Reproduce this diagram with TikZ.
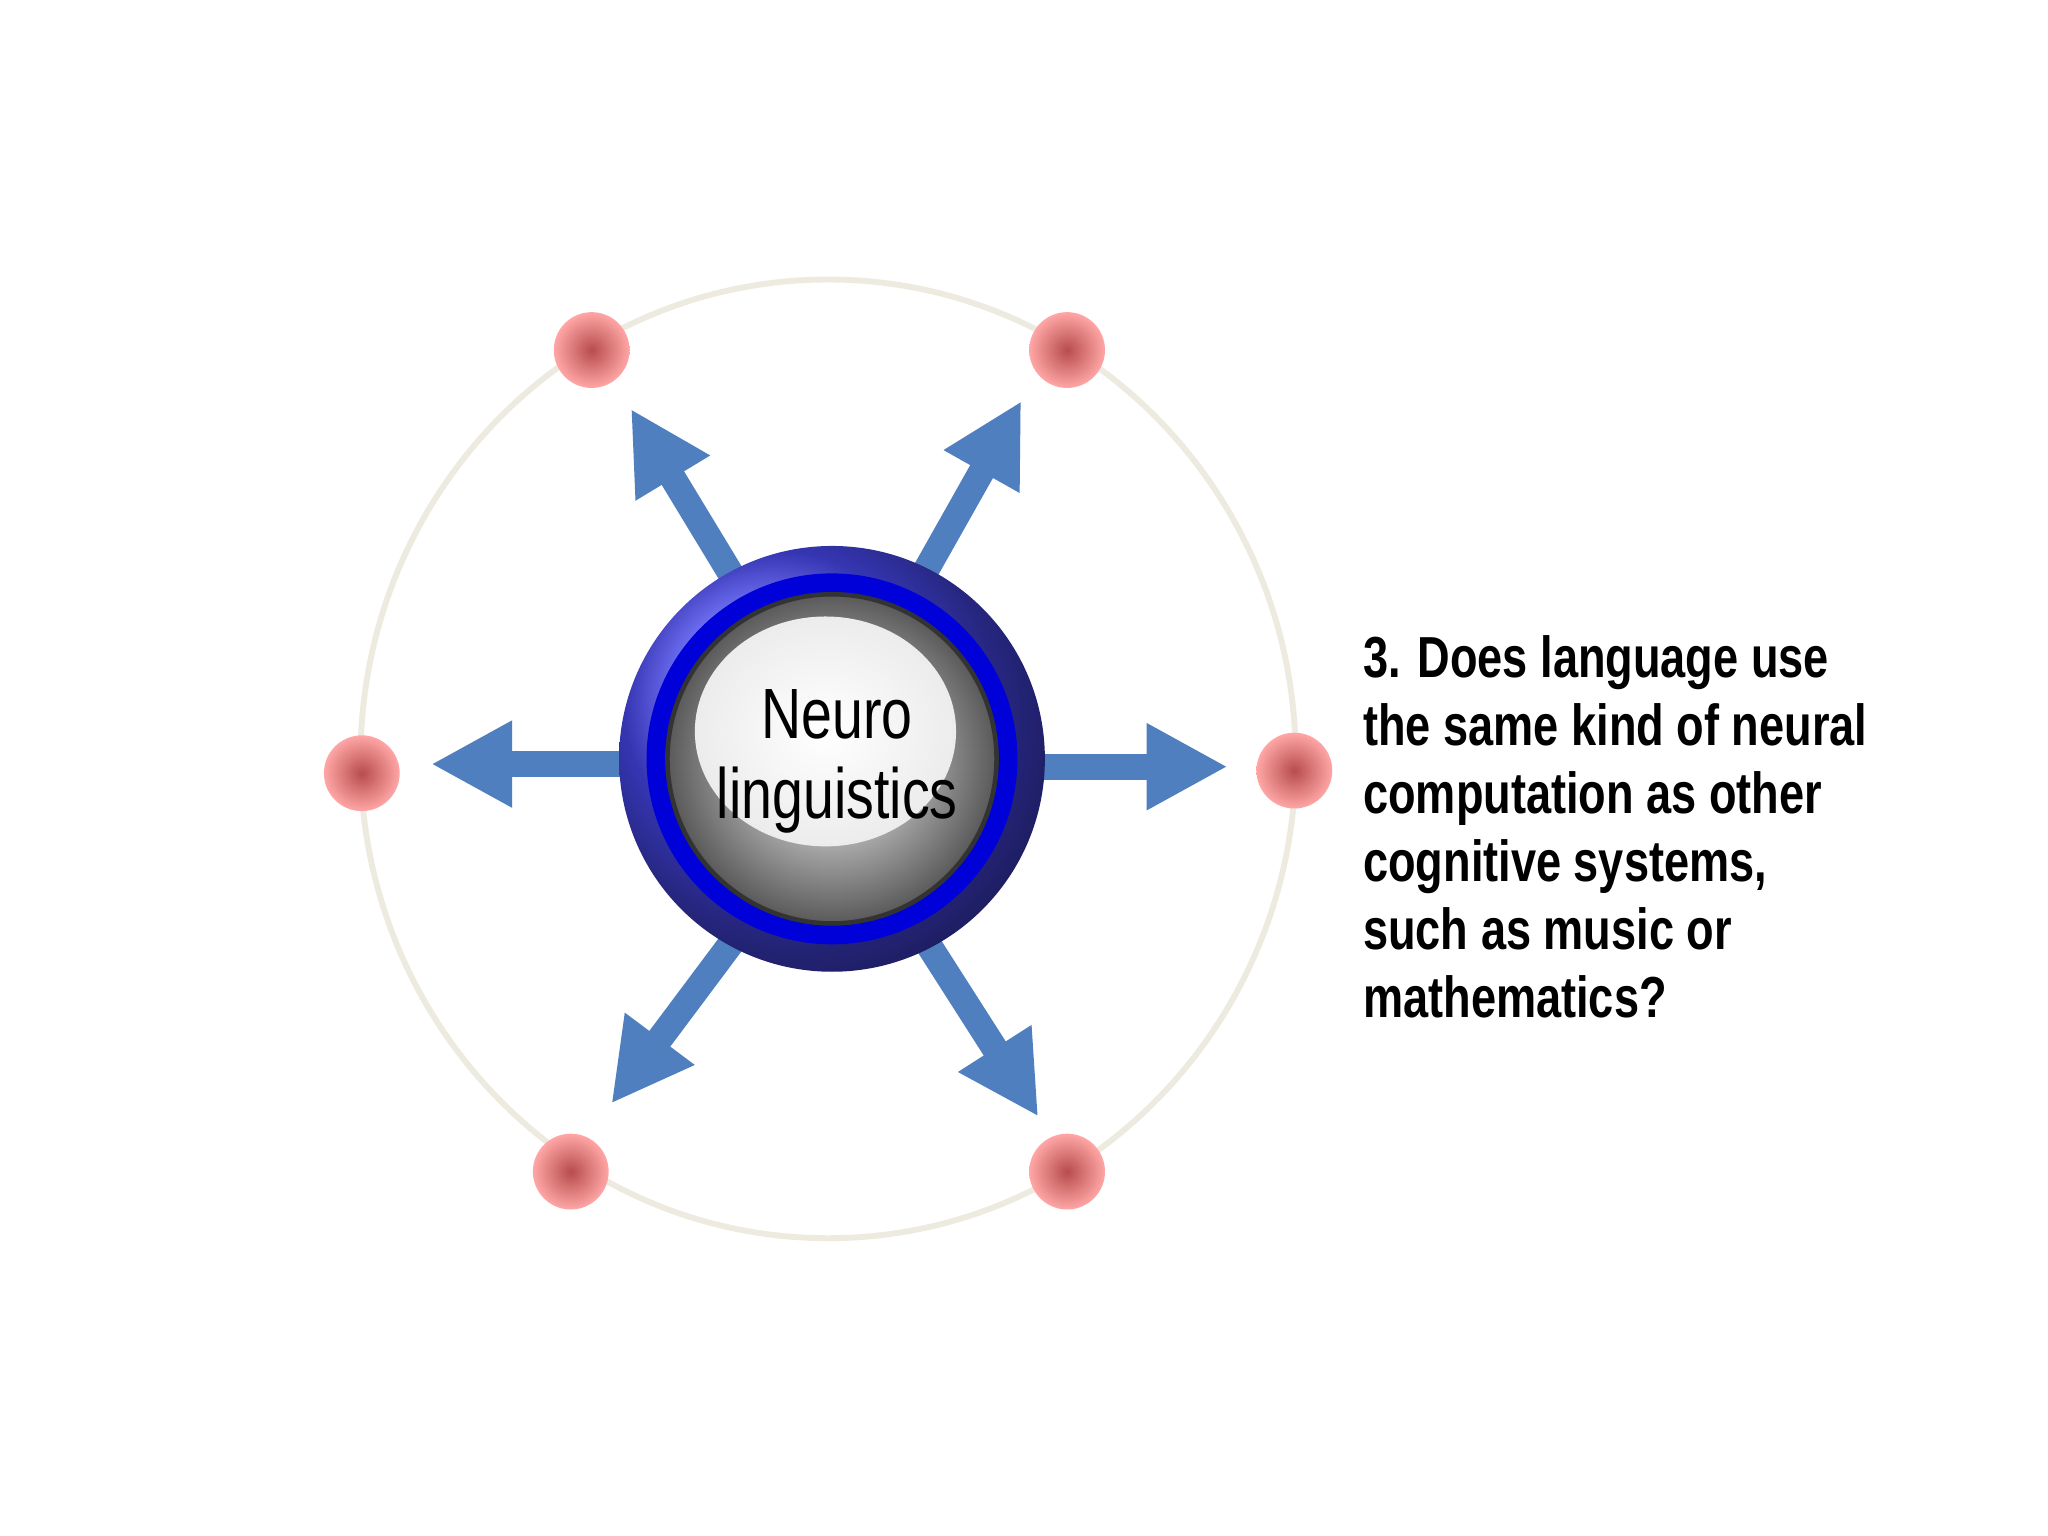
\documentclass[tikz,border=0pt]{standalone}
\usepackage{fontspec}
\setmainfont{Liberation Sans}
\newfontfamily\narrowfont[FakeStretch=0.78]{Liberation Sans}
\usetikzlibrary{arrows.meta,shadings}
\definecolor{arrowblue}{HTML}{4F7FBF}
\definecolor{ringgray}{HTML}{EDEBE0}
\tikzset{
  dot/.style={circle,minimum size=0.58cm,inner sep=0pt,shading=radial,inner color=red!60!black!70,middle color=red!45!white,outer color=red!35!white},
  fatarrow/.style={arrowblue,line width=0.2cm,-{Triangle[length=0.62cm,width=0.62cm]}}
}
\begin{document}
\begin{tikzpicture}[x=0.01cm,y=-0.01cm]
\useasboundingbox[fill=white] (0,0) rectangle (1568,1176);
\draw[ringgray,line width=0.045cm] (634,581) ellipse [x radius=358,y radius=367];
\node[dot] (d1) at (453,268) {};
\node[dot] (d2) at (817,268) {};
\node[dot] (d3) at (277,592) {};
\node[dot] (d4) at (991,590) {};
\node[dot] (d5) at (437,897) {};
\node[dot] (d6) at (817,897) {};
% arrows
\coordinate (s1) at (560,440); \coordinate (t1) at (483,313);
\coordinate (s2) at (707,440); \coordinate (t2) at (782,307);
\coordinate (s3) at (480,585); \coordinate (t3) at (330,585);
\coordinate (s4) at (795,587); \coordinate (t4) at (940,587);
\coordinate (s5) at (560,722); \coordinate (t5) at (468,845);
\coordinate (s6) at (710,722); \coordinate (t6) at (795,855);
\foreach \i in {1,...,6} \draw[fatarrow] (s\i) -- (t\i);
% center button
\shade[ball color=blue!70!white] (637,581) circle[radius=163];
\fill[blue!85!black] (637,581) circle[radius=142];
\shade[inner color=white,outer color=gray!70!black,draw=black!80,line width=0.035cm] (637,581) circle[radius=126];
\shade[inner color=white,outer color=gray!15] (632,560) ellipse[x radius=100,y radius=88];
\node[font=\narrowfont\fontsize{15.5}{17.5}\selectfont,align=center] (c) at (641,583) {Neuro\\linguistics};
\node[font=\narrowfont\bfseries\fontsize{12.6}{14.8}\selectfont,align=left,anchor=north west,inner sep=0pt] (q) at (1043,486)
{3. Does language use\\the same kind of neural\\computation as other\\cognitive systems,\\such as music or\\mathematics?};
\end{tikzpicture}
\end{document}
